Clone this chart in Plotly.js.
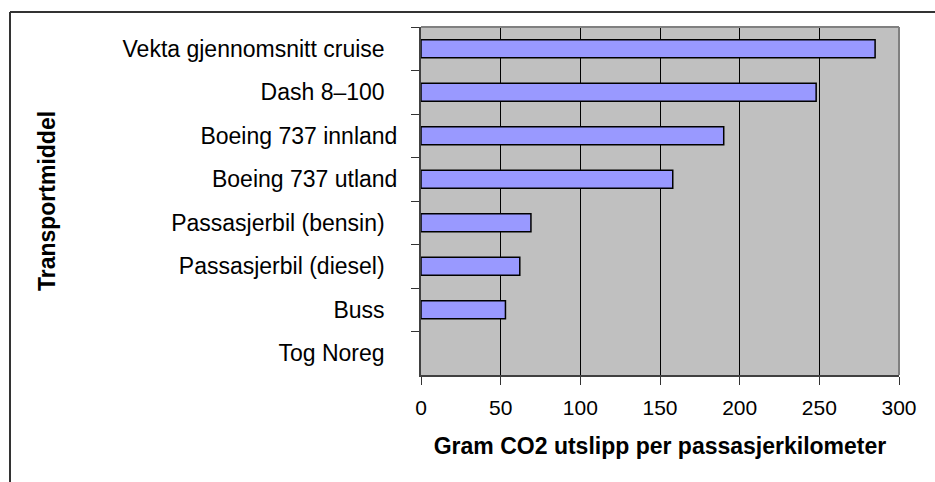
<!DOCTYPE html>
<html>
<head>
<meta charset="utf-8">
<script src="https://cdn.plot.ly/plotly-3.0.1.min.js"></script>
<style>html,body{margin:0;padding:0;background:#fff;}#chart{width:935px;height:482px;}</style>
</head>
<body>
<div id="chart"></div>
<script>
// Categories (top to bottom) and values (gram CO2 per passenger-km)
const categories = [
  "Vekta gjennomsnitt cruise\u00a0\u00a0",
  "Dash 8\u2013100\u00a0\u00a0",
  "Boeing 737 innland",
  "Boeing 737 utland",
  "Passasjerbil (bensin)\u00a0\u00a0",
  "Passasjerbil (diesel)\u00a0\u00a0",
  "Buss\u00a0\u00a0",
  "Tog Noreg\u00a0\u00a0"
];
const values = [285, 248, 190, 158, 69, 62, 53, 0];
const xTickVals = [0, 50, 100, 150, 200, 250, 300];
const xTitle = "Gram CO2 utslipp per passasjerkilometer";
const yTitle = "Transportmiddel";

// plot-area pixel geometry helpers (for frame shapes)
const L = 421, R = 899, T = 27, B = 375, W = 935, H = 482;
const px = v => (v - L) / (R - L);
const py = v => (B - v) / (B - T);

const trace = {
  type: "bar",
  orientation: "h",
  y: categories,
  x: values,
  marker: { color: "#9999ff", line: { color: "#000000", width: values.map(v => v > 0 ? 1.5 : 0) } },
  hoverinfo: "x+y"
};

const layout = {
  width: W, height: H,
  margin: { l: L, r: W - R, t: T, b: H - B, pad: 0 },
  paper_bgcolor: "#ffffff",
  plot_bgcolor: "#c0c0c0",
  showlegend: false,
  bargap: 0.585,
  font: { family: "Liberation Sans, Arial, sans-serif", color: "#000000" },
  xaxis: {
    range: [0, 300],
    tickvals: xTickVals,
    ticks: "outside", ticklen: 8, tickwidth: 1, tickcolor: "#333333",
    tickfont: { size: 21, color: "#000000" },
    ticklabelstandoff: 5,
    showgrid: true, gridcolor: "#000000", gridwidth: 1,
    zeroline: false,
    showline: true, linecolor: "#404040", linewidth: 2,
    fixedrange: true,
    title: { text: xTitle, font: { size: 23, family: "Liberation Sans, Arial, sans-serif", weight: "bold" }, standoff: 20 }
  },
  yaxis: {
    type: "category",
    categoryorder: "array",
    categoryarray: categories,
    autorange: "reversed",
    tickson: "boundaries",
    ticks: "outside", ticklen: 8, tickwidth: 1, tickcolor: "#333333",
    tickfont: { size: 23, color: "#000000" },
    ticklabelstandoff: 17,
    showgrid: false,
    zeroline: false,
    showline: true, linecolor: "#404040", linewidth: 2,
    fixedrange: true,
    title: { text: yTitle, font: { size: 23, family: "Liberation Sans, Arial, sans-serif", weight: "bold" }, standoff: 60 }
  },
  shapes: [
    // plot area border (top & right), gray like the original
    { type: "line", xref: "paper", yref: "paper", x0: 0, x1: 1, y0: 1, y1: 1, line: { color: "#808080", width: 2 } },
    { type: "line", xref: "paper", yref: "paper", x0: 1, x1: 1, y0: 0, y1: 1, line: { color: "#808080", width: 2 } },
    // outer chart frame (top & left)
    { type: "line", xref: "paper", yref: "paper", x0: px(10), x1: px(W + 2), y0: py(12), y1: py(12), line: { color: "#333333", width: 2 } },
    { type: "line", xref: "paper", yref: "paper", x0: px(10), x1: px(10), y0: py(12), y1: py(H + 2), line: { color: "#333333", width: 2 } }
  ]
};

Plotly.newPlot("chart", [trace], layout, { displayModeBar: false, staticPlot: false });
</script>
</body>
</html>
